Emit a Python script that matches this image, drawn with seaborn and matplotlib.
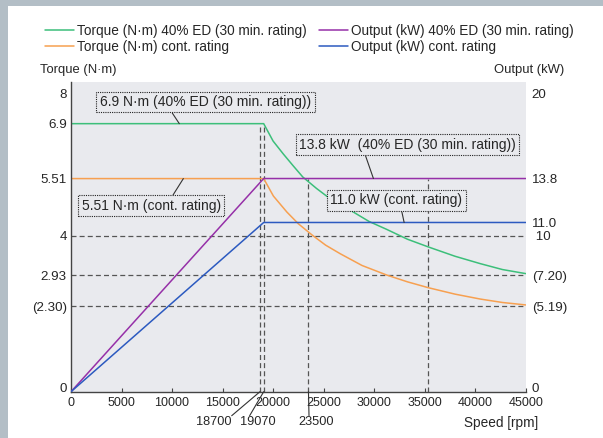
import numpy as np
import pandas as pd
import matplotlib
matplotlib.use("Agg")
import matplotlib.pyplot as plt
import matplotlib.transforms as mtrans
import seaborn as sns
from matplotlib.patches import Rectangle
from matplotlib.lines import Line2D

# ---------------- data ----------------
speed_ticks = [0, 5000, 10000, 15000, 20000, 25000, 30000, 35000, 40000, 45000]

green_speed = [0, 19070, 20000, 21020, 22000, 22940, 24300, 25640, 27620, 29500,
               31260, 33300, 35380, 38000, 40500, 42700, 45000]
green_torque = [6.9, 6.9, 6.46, 6.13, 5.83, 5.55, 5.25, 4.98, 4.68, 4.38,
                4.17, 3.91, 3.70, 3.45, 3.25, 3.09, 2.98]

orange_speed = [0, 19070, 20030, 21360, 22500, 23830, 25200, 26630, 28800, 31260,
                33300, 35380, 38000, 40500, 42700, 45000]
orange_torque = [5.51, 5.51, 5.05, 4.63, 4.32, 4.03, 3.75, 3.52, 3.20, 2.94,
                 2.80, 2.68, 2.55, 2.45, 2.38, 2.33]

purple_speed = [0, 19070, 45000]
purple_output = [0, 13.8, 13.8]

blue_speed = [0, 19070, 45000]
blue_output = [0, 11.0, 11.0]

series_names = ["Torque (N\u00b7m) 40% ED (30 min. rating)",
                "Torque (N\u00b7m) cont. rating",
                "Output (kW) 40% ED (30 min. rating)",
                "Output (kW) cont. rating"]

torque_ticks = [0, 2.30, 2.93, 4, 5.51, 6.9, 8]
torque_tick_labels = ["0", "(2.30)", "2.93", "4", "5.51", "6.9", "8"]
output_ticks = [0, 5.19, 7.20, 10, 11.0, 13.8, 20]
output_tick_labels = ["0", "(5.19)", "(7.20)", " 10", "11.0", "13.8", "20"]

ref_torque_levels = [4, 2.93, 2.30]          # dashed horizontal lines
marks_to_6_9 = [18700, 19070]                 # dashed verticals up to 6.9 N·m
marks_to_5_51 = [23500, 35300]                # dashed verticals up to 5.51 N·m
speed_mark_values = [18700, 19070, 23500]
speed_mark_labels = ["18700", "19070", "23500"]

# ---------------- schematic (non-linear) vertical scales ----------------
# the reference draws its value levels at schematic heights (pixels above x axis)
T_KNOTS = np.array([-100.0, 0, 2.30, 2.93, 4, 5.51, 6.9, 8, 100])
T_HGT = np.array([-3830.0, 0, 85.4, 116.4, 156, 213.4, 268.4, 298.8, 298.8 + 92 * 27.6])
P_KNOTS = np.array([-100.0, 0, 5.19, 7.20, 10, 11.0, 13.8, 20, 200])
P_HGT = np.array([-1650.0, 0, 85.4, 116.4, 156, 169.4, 213.4, 298.8, 298.8 + 180 * 13.7])


def t_fwd(v):
    return np.interp(np.asarray(v, dtype=float), T_KNOTS, T_HGT)


def t_inv(h):
    return np.interp(np.asarray(h, dtype=float), T_HGT, T_KNOTS)


def p_fwd(v):
    return np.interp(np.asarray(v, dtype=float), P_KNOTS, P_HGT)


def p_inv(h):
    return np.interp(np.asarray(h, dtype=float), P_HGT, P_KNOTS)


# ---------------- style ----------------
sns.set_theme(style="white")
plt.rcParams["font.family"] = ["Liberation Sans", "DejaVu Sans"]
TEXT = "#262626"
AX_BG = "#e9eaee"
C_GREEN = "#3cbf7a"
C_ORANGE = "#f7a050"
C_PURPLE = "#9630a8"
C_BLUE = "#2c5ac0"
C_DASH = "#555555"

fig = plt.figure(figsize=(6.03, 4.38), dpi=100)
fig.patch.set_facecolor("#b3bec6")
fig.add_artist(Rectangle((8 / 603, 0), 1, 1 - 6 / 438, transform=fig.transFigure,
                         facecolor="white", edgecolor="none", zorder=-1))

L, R, B, T = 71, 525.7, 391.7, 82
ax = fig.add_axes([L / 603, (438 - B) / 438, (R - L) / 603, (B - T) / 438])
ax.set_facecolor(AX_BG)
ax.set_yscale("function", functions=(t_fwd, t_inv))
ax2 = ax.twinx()
ax2.set_yscale("function", functions=(p_fwd, p_inv))

# dashed reference lines
ax.hlines(ref_torque_levels, 0, 45000, colors=C_DASH, linewidth=0.9,
          linestyles=(0, (4, 2.5)), zorder=1.5)
ax.vlines(marks_to_6_9, 0, 6.9, colors=C_DASH, linewidth=0.9,
          linestyles=(0, (4, 2.5)), zorder=1.5)
ax.vlines(marks_to_5_51, 0, 5.51, colors=C_DASH, linewidth=0.9,
          linestyles=(0, (4, 2.5)), zorder=1.5)

torque_df = pd.concat([
    pd.DataFrame({"speed": green_speed, "val": green_torque, "s": series_names[0]}),
    pd.DataFrame({"speed": orange_speed, "val": orange_torque, "s": series_names[1]}),
])
output_df = pd.concat([
    pd.DataFrame({"speed": purple_speed, "val": purple_output, "s": series_names[2]}),
    pd.DataFrame({"speed": blue_speed, "val": blue_output, "s": series_names[3]}),
])
sns.lineplot(data=torque_df, x="speed", y="val", hue="s",
             palette=[C_GREEN, C_ORANGE], estimator=None, sort=False,
             linewidth=1.1, ax=ax, legend=False, zorder=2)
sns.lineplot(data=output_df, x="speed", y="val", hue="s",
             palette=[C_PURPLE, C_BLUE], estimator=None, sort=False,
             linewidth=1.1, ax=ax2, legend=False, zorder=2)

ax.set_xlim(0, 45000)
ax.set_ylim(0, 8.41)
ax2.set_ylim(0, 20.82)

# ticks
ax.set_xticks(speed_ticks)
ax.set_xticklabels([str(v) for v in speed_ticks])
ax.set_yticks(torque_ticks)
ax.set_yticklabels(torque_tick_labels)
ax2.set_yticks(output_ticks)
ax2.set_yticklabels(output_tick_labels)
ax.tick_params(axis="x", direction="in", length=3, width=0.8, color="#444444",
               pad=3.5, labelsize=9, labelcolor=TEXT, bottom=True)
ax.tick_params(axis="y", length=0, pad=3.0, labelsize=9.6, labelcolor=TEXT)
ax2.tick_params(axis="y", length=0, pad=4.3, labelsize=9.6, labelcolor=TEXT)

for s in ["top", "right"]:
    ax.spines[s].set_visible(False)
for s in ["left", "bottom"]:
    ax.spines[s].set_color("#444444")
    ax.spines[s].set_linewidth(1.0)
for s in ax2.spines.values():
    s.set_visible(False)

# axis titles
ax.set_ylabel("Torque (N\u00b7m)", rotation=0, ha="left", va="center",
              fontsize=9.4, color=TEXT)
ax.yaxis.set_label_coords((40 - L) / (R - L), (B - 70) / (B - T))
ax2.set_ylabel("Output (kW)", rotation=0, ha="right", va="center",
               fontsize=9.4, color=TEXT)
ax2.yaxis.set_label_coords((564 - L) / (R - L), (B - 70) / (B - T))
ax.set_xlabel("Speed [rpm]", ha="right", va="center", fontsize=9.8, color=TEXT)
ax.xaxis.set_label_coords((538 - L) / (R - L), (B - 423) / (B - T))

# speed mark labels with leader lines
mark_offsets = [(-46, -30), (-5.5, -30), (7.3, -30)]
mark_relpos = [(1.0, 1.0), (0.26, 1.0), (0.31, 1.0)]
for val, lab, off, rp in zip(speed_mark_values, speed_mark_labels, mark_offsets, mark_relpos):
    ax.annotate(lab, xy=(val, 0), xycoords="data", xytext=off,
                textcoords="offset pixels", ha="center", va="center",
                fontsize=9.2, color=TEXT, annotation_clip=False,
                arrowprops=dict(arrowstyle="-", color="#333333", lw=0.8,
                                shrinkA=0, shrinkB=0, relpos=rp, patchA=None))

# rating boxes
box_kw = dict(boxstyle="square,pad=0.25", fc=AX_BG, ec="#222222", ls=(0, (1, 1)), lw=0.8)
arrow_kw = dict(arrowstyle="-", color="#333333", lw=0.8, shrinkA=0, shrinkB=0)
ax.annotate("6.9 N\u00b7m (40% ED (30 min. rating))", xy=(10720, 6.9),
            xytext=(0.2958, 0.9354), textcoords="axes fraction",
            ha="center", va="center", fontsize=10, color=TEXT, bbox=box_kw,
            arrowprops=dict(arrow_kw, relpos=(0.33, 0.0)), zorder=5)
ax.annotate("5.51 N\u00b7m (cont. rating)", xy=(11120, 5.51),
            xytext=(0.1763, 0.6003), textcoords="axes fraction",
            ha="center", va="center", fontsize=10, color=TEXT, bbox=box_kw,
            arrowprops=dict(arrow_kw, relpos=(0.64, 1.0)), zorder=5)
ax2.annotate("13.8 kW  (40% ED (30 min. rating))", xy=(29930, 13.8),
             xytext=(0.740, 0.7975), textcoords="axes fraction",
             ha="center", va="center", fontsize=10, color=TEXT, bbox=box_kw,
             arrowprops=dict(arrow_kw, relpos=(0.30, 0.0)), zorder=5)
ax2.annotate("11.0 kW (cont. rating)", xy=(32970, 11.0),
             xytext=(0.7154, 0.6174), textcoords="axes fraction",
             ha="center", va="center", fontsize=10, color=TEXT, bbox=box_kw,
             arrowprops=dict(arrow_kw, relpos=(0.535, 0.0)), zorder=5)

# legend
handles = [Line2D([], [], color=c, lw=1.1) for c in [C_GREEN, C_ORANGE, C_PURPLE, C_BLUE]]
fig.legend(handles, series_names, ncol=2, loc="upper left",
           bbox_to_anchor=(45 / 603, 1 - 24 / 438), frameon=False,
           handlelength=2.1, handletextpad=0.22, columnspacing=0.95,
           labelspacing=0.12, borderpad=0, borderaxespad=0, fontsize=9.8,
           labelcolor=TEXT)

# the "0" labels on both value axes sit a little above the baseline in the reference
lift = mtrans.ScaledTranslation(0, 4 / 100, fig.dpi_scale_trans)
t0 = ax.yaxis.get_major_ticks()[0]
t0.label1.set_transform(t0.label1.get_transform() + lift)
r0 = ax2.yaxis.get_major_ticks()[0]
r0.label2.set_transform(r0.label2.get_transform() + lift)

fig.savefig("out.png", dpi=100, facecolor=fig.get_facecolor())
